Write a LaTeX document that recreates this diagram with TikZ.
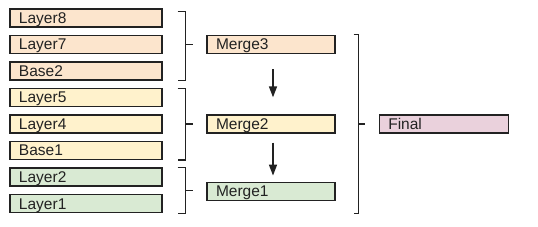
\documentclass[tikz,border=0pt]{standalone}
\usepackage{fontspec}
\setmainfont{Liberation Sans}
\usetikzlibrary{arrows.meta, positioning, calc}
\definecolor{fillorange}{HTML}{FCE5CD}
\definecolor{fillyellow}{HTML}{FFF2CC}
\definecolor{fillgreen}{HTML}{D9EAD3}
\definecolor{fillpink}{HTML}{EAD1DC}
\definecolor{linegray}{HTML}{222222}
\tikzset{
    block/.style={rectangle, draw=linegray, line width=1.3pt, text=linegray, inner xsep=9pt, inner ysep=0pt, align=left, minimum height=18pt, text height=11pt, text depth=0pt, font=\fontsize{15.5}{17}\selectfont},
    block_orange/.style={block, fill=fillorange, text width=134pt},
    block_yellow/.style={block, fill=fillyellow, text width=134pt},
    block_green/.style={block, fill=fillgreen, text width=134pt},
    block_pink/.style={block, fill=fillpink, text width=111pt},
    bracket/.style={line width=1.3pt, draw=linegray},
    arrow/.style={-{Triangle[length=11pt,width=8pt]}, line width=1.6pt, draw=linegray}
}

\begin{document}
\begin{tikzpicture}[x=1pt, y=1pt, node distance=7.2pt and 43.7pt]
			\useasboundingbox (0,0) rectangle (538,-227);
			% left column
			\node (l8) [block_orange] at (86,-18) {Layer8};
			\node (l7) [block_orange, below=of l8] {Layer7};
			\node (b2) [block_orange, below=of l7] {Base2};
			\node (l5) [block_yellow, below=of b2] {Layer5};
			\node (l4) [block_yellow, below=of l5] {Layer4};
			\node (b1) [block_yellow, below=of l4] {Base1};
			\node (l2) [block_green, below=of b1] {Layer2};
			\node (l1) [block_green, below=of l2] {Layer1};
			
			% merges
			\node (m3) [block_orange, right=of l7, text width=110pt] {Merge3};
			\node (m2) [block_yellow, right=of l4, text width=110pt] {Merge2};
			\node (m1) [block_green, anchor=west, text width=110pt] at ($(l2.east)!0.5!(l1.east)+(43.7,-1)$) {Merge1};
			\node (fin) [block_pink, right=43pt of m2] {Final};
			
			% brackets
			\draw [bracket] ([xshift=15pt,yshift=-3pt]l8.north east) -- ++(8,0) |- ([xshift=15pt]b2.south east);
			\draw [bracket] ([xshift=23pt]l7.east) -- ++(7,0);
			\draw [bracket] ([xshift=15pt,yshift=-1pt]l5.north east) -- ++(8,0) |- ([xshift=15pt]b1.south east);
			\draw [bracket] ([xshift=23pt]l4.east) -- ++(7,0);
			\draw [bracket] ([xshift=15pt]l2.north east) -- ++(8,0) |- ([xshift=15pt]l1.south east);
			\draw [bracket] ($(l2.east)!0.5!(l1.east)+(23,0)$) -- ++(7,0);
			\draw [bracket] ([xshift=18pt]m3.north east) -- ++(5,0) |- ([xshift=18pt]l1.south -| m1.east);
			\draw [bracket] ([xshift=23pt]m2.east) -- ++(6,0);
			
			\draw [arrow, shorten <=15pt, shorten >=17pt] ([xshift=2pt]m3.south) -- ([xshift=2pt]m2.north);
			\draw [arrow, shorten <=9pt, shorten >=6pt] ([xshift=2pt]m2.south) -- ([xshift=2pt]m1.north);
		\end{tikzpicture}
\end{document}
